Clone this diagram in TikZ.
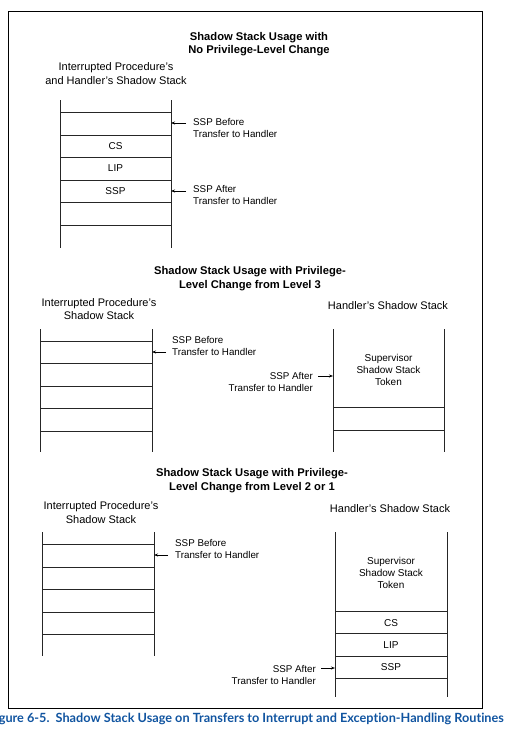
\documentclass[tikz,border=0pt]{standalone}
\usepackage{fontspec}
\setmainfont{Liberation Sans}
\newfontfamily\capfont[Ligatures=NoCommon]{Lato}
\usetikzlibrary{arrows.meta}
\definecolor{capblue}{RGB}{16,84,160}
\begin{document}
\begin{tikzpicture}[x=1pt,y=-1pt,
  stk/.style={line width=0.8pt,black!85},
  ttl/.style={font=\fontsize{11.2}{13.4}\selectfont\bfseries,align=center,inner sep=0},
  hdr/.style={font=\fontsize{11}{13.5}\selectfont,align=center,inner sep=0},
  lbl/.style={font=\fontsize{9.8}{12}\selectfont,align=left,inner sep=0},
  lblr/.style={font=\fontsize{9.8}{12}\selectfont,align=right,inner sep=0},
  cell/.style={font=\fontsize{10}{12}\selectfont,inner sep=0},
  ptr/.style={line width=0.7pt,-{Stealth[length=4pt,width=3pt]}}]
\useasboundingbox (0,0) rectangle (509,731);
\node[draw,line width=0.9pt,minimum width=474pt,minimum height=697pt,anchor=north west,inner sep=0] (frame) at (8,11) {};
% ---------- section 1
\node[ttl] (t1) at (259,44) {Shadow Stack Usage with\\No Privilege-Level Change};
\node[hdr] (h1) at (116,73.5) {Interrupted Procedure's\\and Handler's Shadow Stack};
\foreach \y in {112,135,157,180,202,225} \draw[stk] (60,\y) -- (171,\y);
\draw[stk] (60,100) -- (60,248);
\draw[stk] (171,100) -- (171,248);
\node[cell] (cs1) at (115.5,146) {CS};
\node[cell] (lip1) at (115.5,168.5) {LIP};
\node[cell] (ssp1) at (115.5,191) {SSP};
\coordinate (b1) at (171,123);
\coordinate (a1) at (171,191);
\node[lbl,anchor=west] (sb1) at (193,128) {SSP Before\\Transfer to Handler};
\node[lbl,anchor=west] (sa1) at (193,195) {SSP After\\Transfer to Handler};
\draw[ptr] (186,123) -- (b1);
\draw[ptr] (186,191) -- (a1);
% ---------- section 2
\node[ttl] (t2) at (250,278.5) {Shadow Stack Usage with Privilege-\\Level Change from Level 3};
\node[hdr] (h2) at (99,309) {Interrupted Procedure's\\Shadow Stack};
\node[hdr] (h2r) at (388,306) {Handler's Shadow Stack};
\foreach \y in {341,363,386,408,431} \draw[stk] (40,\y) -- (152,\y);
\draw[stk] (40,329) -- (40,452);
\draw[stk] (152,329) -- (152,452);
\foreach \y in {407,430} \draw[stk] (333,\y) -- (444,\y);
\draw[stk] (333,329) -- (333,452);
\draw[stk] (444,329) -- (444,452);
\node[cell,align=center,font=\fontsize{10}{12}\selectfont] (tok2) at (388.5,370) {Supervisor\\Shadow Stack\\Token};
\coordinate (b2) at (152,352);
\coordinate (a2) at (333,376);
\node[lbl,anchor=west] (sb2) at (172,346) {SSP Before\\Transfer to Handler};
\node[lblr,anchor=east] (sa2) at (313,382) {SSP After\\Transfer to Handler};
\draw[ptr] (166,352) -- (b2);
\draw[ptr] (318,376) -- (a2);
% ---------- section 3
\node[ttl] (t3) at (252,480.5) {Shadow Stack Usage with Privilege-\\Level Change from Level 2 or 1};
\node[hdr] (h3) at (101,512.5) {Interrupted Procedure's\\Shadow Stack};
\node[hdr] (h3r) at (390,509) {Handler's Shadow Stack};
\foreach \y in {544,567,589,612,634} \draw[stk] (42,\y) -- (154,\y);
\draw[stk] (42,532) -- (42,656);
\draw[stk] (154,532) -- (154,656);
\foreach \y in {611,633,656,678} \draw[stk] (335,\y) -- (447,\y);
\draw[stk] (335,532) -- (335,697);
\draw[stk] (447,532) -- (447,697);
\node[cell,align=center,font=\fontsize{10}{12}\selectfont] (tok3) at (391,573) {Supervisor\\Shadow Stack\\Token};
\node[cell] (cs3) at (391,623) {CS};
\node[cell] (lip3) at (391,645) {LIP};
\node[cell] (ssp3) at (391,667.5) {SSP};
\coordinate (b3) at (154,555);
\coordinate (a3) at (335,668);
\node[lbl,anchor=west] (sb3) at (175,549) {SSP Before\\Transfer to Handler};
\node[lblr,anchor=east] (sa3) at (316,674.5) {SSP After\\Transfer to Handler};
\draw[ptr] (168,555) -- (b3);
\draw[ptr] (321,668) -- (a3);
% ---------- caption
\node[anchor=east,inner sep=0,text=capblue,font=\capfont\bfseries\fontsize{12.68}{15}\selectfont] (cap) at (504,719) {Figure 6-5.\ \ Shadow Stack Usage on Transfers to Interrupt and Exception-Handling Routines};
\end{tikzpicture}
\end{document}
